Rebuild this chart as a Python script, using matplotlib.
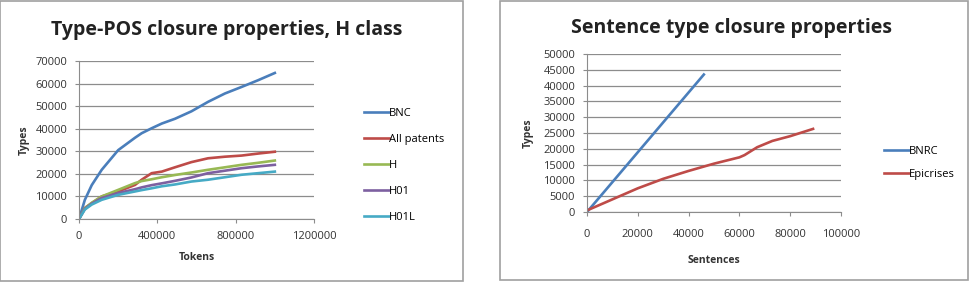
import matplotlib.pyplot as plt
from matplotlib.patches import Rectangle

# Left chart: Type-POS closure, H class (tokens vs types)
tokens = [0, 30000, 65000, 116000, 200000, 286000, 320000, 371000, 423000,
          490000, 574000, 659000, 745000, 830000, 915000, 1000000]
bnc = [0, 8500, 15000, 21800, 30500, 36000, 38000, 40200, 42300,
       44400, 47700, 51900, 55600, 58500, 61500, 64700]
all_patents = [0, 4900, 7000, 10000, 12200, 15100, 17400, 20300, 21000,
               22900, 25200, 26900, 27600, 28100, 29000, 29800]
h_class = [0, 4800, 7200, 10000, 12900, 15900, 16800, 17600, 18500,
           19500, 20600, 21800, 22900, 24000, 24900, 25900]
h01 = [0, 4500, 6800, 9300, 11500, 13200, 14000, 15000, 15800,
       16900, 18400, 20300, 21400, 22500, 23300, 24000]
h01l = [0, 4200, 6400, 8500, 10700, 12200, 12800, 13600, 14500,
        15300, 16600, 17400, 18500, 19600, 20300, 21000]

# Right chart: sentence type closure
bnrc_x = [0, 46000]
bnrc_y = [0, 43500]
epi_x = [0, 10000, 20000, 30000, 40000, 50000, 60000, 62000, 67000,
         73000, 80000, 89000]
epi_y = [500, 4000, 7500, 10500, 13000, 15300, 17300, 18000, 20500,
         22500, 24000, 26300]

colors = {'BNC': '#4a7ebb', 'All patents': '#be4b48', 'H': '#98b954',
          'H01': '#7d60a0', 'H01L': '#46aac5'}

plt.rcParams['font.family'] = ['Open Sans', 'DejaVu Sans']

fig = plt.figure(figsize=(9.69, 2.90), dpi=100)

# panel frames
for x0, x1, y1 in [(0, 463, 281), (500, 968, 280)]:
    fig.patches.append(Rectangle((x0 / 969, 1 - y1 / 290), (x1 - x0) / 969, y1 / 290 - 0.003,
                                 transform=fig.transFigure, fill=False,
                                 edgecolor='#a0a0a0', lw=1.2))


def style(ax, xpad):
    ax.grid(axis='y', color='#8c8c8c', lw=0.9)
    ax.set_axisbelow(True)
    for s in ['top', 'right']:
        ax.spines[s].set_visible(False)
    for s in ['left', 'bottom']:
        ax.spines[s].set_color('#8c8c8c')
    ax.tick_params(labelsize=8, colors='#8c8c8c', labelcolor='#333333',
                   length=3, width=0.8)
    ax.tick_params(axis='y', pad=5.5)
    ax.tick_params(axis='x', pad=xpad)


ax1 = fig.add_axes([79 / 969, 1 - 219 / 290, 235 / 969, 158 / 290])
series = [('BNC', bnc), ('All patents', all_patents), ('H', h_class),
          ('H01', h01), ('H01L', h01l)]
for name, ys in series:
    ax1.plot(tokens, ys, color=colors[name], lw=1.9, label=name)
ax1.set_xlim(0, 1200000)
ax1.set_ylim(0, 70000)
ax1.set_xticks([0, 400000, 800000, 1200000])
ax1.set_xticklabels(['0', '400000', '800000', '1200000'])
ax1.set_yticks(range(0, 70001, 10000))
style(ax1, 5.7)
ax1.set_xlabel('Tokens', fontsize=7.5, fontweight='bold', color='#333333', labelpad=7)
ax1.set_ylabel('Types', fontsize=7.5, fontweight='bold', color='#333333', labelpad=4)
ax1.set_title('Type-POS closure properties, H class', fontsize=14, fontweight='bold',
              color='#222222', pad=19, x=0.63)
ax1.legend(loc='center left', bbox_to_anchor=(1.17, 0.34), frameon=False,
           fontsize=8, handlelength=2.25, handletextpad=0.0,
           labelspacing=1.35)

ax2 = fig.add_axes([587 / 969, 1 - 212 / 290, 254 / 969, 158 / 290])
ax2.plot(bnrc_x, bnrc_y, color=colors['BNC'], lw=1.9, label='BNRC')
ax2.plot(epi_x, epi_y, color=colors['All patents'], lw=1.9, label='Epicrises')
ax2.set_xlim(0, 100000)
ax2.set_ylim(0, 50000)
ax2.set_xticks(range(0, 100001, 20000))
ax2.set_yticks(range(0, 50001, 5000))
style(ax2, 9.3)
ax2.set_xlabel('Sentences', fontsize=7.5, fontweight='bold', color='#333333', labelpad=10.4)
ax2.set_ylabel('Types', fontsize=7.5, fontweight='bold', color='#333333', labelpad=7)
ax2.set_title('Sentence type closure properties', fontsize=14, fontweight='bold',
              color='#222222', pad=15, x=0.57)
ax2.legend(loc='center left', bbox_to_anchor=(1.13, 0.31), frameon=False,
           fontsize=8, handlelength=2.25, handletextpad=0.0, labelspacing=1.1)

fig.savefig('out.png', dpi=100)
